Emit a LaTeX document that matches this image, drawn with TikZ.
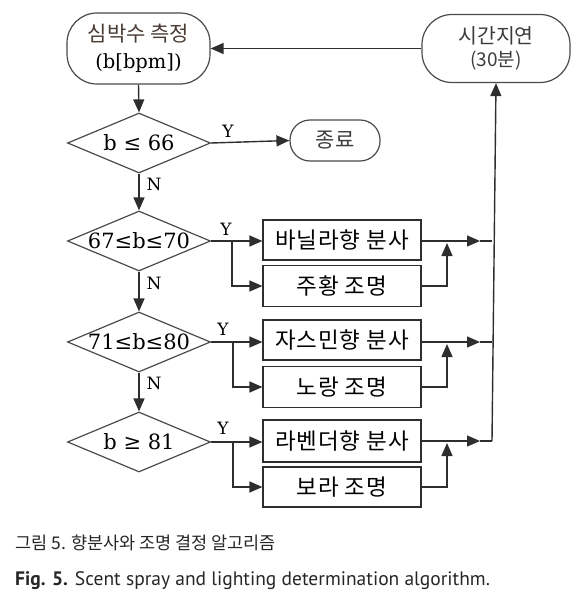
\documentclass[tikz,border=0pt]{standalone}
\usepackage{fontspec}
\setmainfont{DejaVu Serif}
\newfontfamily\kr{Noto Sans CJK KR}
\newfontfamily\krsp[LetterSpace=4]{Noto Sans CJK KR}
\newfontfamily\capen{PT Sans}
\usetikzlibrary{shapes.geometric,arrows.meta}
\definecolor{ln}{HTML}{2E2E2E}
\definecolor{sh}{HTML}{4A4A4A}
\definecolor{brn}{HTML}{4A3B34}
\definecolor{gtx}{HTML}{3C3C3C}
\tikzset{
  term/.style={draw=sh, line width=1.2pt, rounded corners=#1, inner sep=0pt, align=center},
  dec/.style={draw=sh, line width=1.2pt, diamond, aspect=2.4, minimum width=143pt, minimum height=60pt, inner sep=0pt, font=\fontsize{21}{22}\selectfont},
  box/.style={draw=ln, line width=1.2pt, minimum width=158pt, minimum height=40pt, inner sep=0pt, font=\krsp\fontsize{22.5}{24}\selectfont},
  con/.style={draw=ln, line width=1.4pt},
  arr/.style={con, -{Triangle[length=13pt,width=11pt]}},
  yn/.style={font=\fontsize{17}{18}\selectfont, inner sep=0pt}
}
\begin{document}
\begin{tikzpicture}[x=1pt,y=-1pt]
\useasboundingbox (0,0) rectangle (582,602);
% terminals
\node[term=30pt, minimum width=143pt, minimum height=71pt] (start) at (138.5,48.5)
  {{\color{brn}\kr\fontsize{21}{22}\selectfont 심박수 측정}\\[9pt]{\fontsize{19.5}{20}\selectfont (b[bpm])}};
\node[term=30pt, minimum width=148pt, minimum height=68pt] (delay) at (496,48.5)
  {{\color{gtx}\kr\fontsize{20.5}{22}\selectfont 시간지연}\\[5pt]{\color{gtx}\kr\fontsize{19}{20}\selectfont (30분)}};
\node[term=20pt, minimum width=90pt, minimum height=41pt, font=\kr\fontsize{21}{22}\selectfont, text=gtx] (end) at (335,140.5) {종료};
% decisions
\node[dec] (d1) at (139,143) {b ≤ 66};
\node[dec] (d2) at (139,241) {67≤b≤70};
\node[dec] (d3) at (139,342) {71≤b≤80};
\node[dec] (d4) at (139,442) {b ≥ 81};
% action boxes
\node[box] (b1) at (342,240) {바닐라향 분사};
\node[box, minimum height=41pt] (b2) at (342,286) {주황 조명};
\node[box] (b3) at (342,340) {자스민향 분사};
\node[box, minimum height=41pt] (b4) at (342,387) {노랑 조명};
\node[box, minimum height=42pt] (b5) at (342,441) {라벤더향 분사};
\node[box] (b6) at (342,487) {보라 조명};
% coordinates
\coordinate (s2) at (232,241);
\coordinate (s3) at (233,342);
\coordinate (s4) at (233,442);
\coordinate (a1) at (480,241);
\coordinate (a3) at (480,342);
\coordinate (a5) at (480,441);
\coordinate (j1) at (492,241);
\coordinate (j3) at (492,342);
\coordinate (j5) at (492,441);
\coordinate (u1) at (447,243);
\coordinate (u3) at (447,344);
\coordinate (u5) at (447,443);
% main flow
\draw[arr] (delay.west) -- (start.east);
\draw[arr] (start.south) -- (d1.north);
\draw[arr] (d1.east) -- (end.west);
\draw[arr] (d1.south) -- (d2.north);
\draw[arr] (d2.south) -- (d3.north);
\draw[arr] (d3.south) -- (d4.north);
\node[yn] at (228,131) {Y};
\node[yn] at (154,184) {N};
\node[yn] at (226,229) {Y};
\node[yn] at (154,283) {N};
\node[yn] at (223,329) {Y};
\node[yn] at (154,383) {N};
\node[yn] at (223,428) {Y};
% branches
\draw[arr] (d2.east) -- (d2.east -| b1.west);
\draw[arr] (s2) |- (b2.west);
\draw[arr] (d3.east) -- (d3.east -| b3.west);
\draw[arr] (s3) |- (b4.west);
\draw[arr] (d4.east) -- (d4.east -| b5.west);
\draw[arr] (s4) |- (b6.west);
% merges
\draw[arr] (b1.east |- a1) -- (a1);
\draw[con] (a1) -- (j1);
\draw[arr] (b2.east) -| (u1);
\draw[arr] (b3.east |- a3) -- (a3);
\draw[con] (a3) -- (j3);
\draw[arr] (b4.east) -| (u3);
\draw[arr] (b5.east |- a5) -- (a5);
\draw[con] (a5) -- (j5);
\draw[arr] (b6.east) -| (u5);
\draw[arr] (j5) -- (delay.south);
% captions
\node[anchor=base west, inner sep=0pt, font=\kr\fontsize{17.5}{20}\selectfont, text=black!85] (cap1) at (15,549) {그림 5. 향분사와 조명 결정 알고리즘};
\node[anchor=base west, inner sep=0pt, font=\capen\fontsize{19.5}{22}\selectfont, text=black!85] (cap2) at (15,585) {\textbf{Fig. 5.} Scent spray and lighting determination algorithm.};
\end{tikzpicture}
\end{document}
